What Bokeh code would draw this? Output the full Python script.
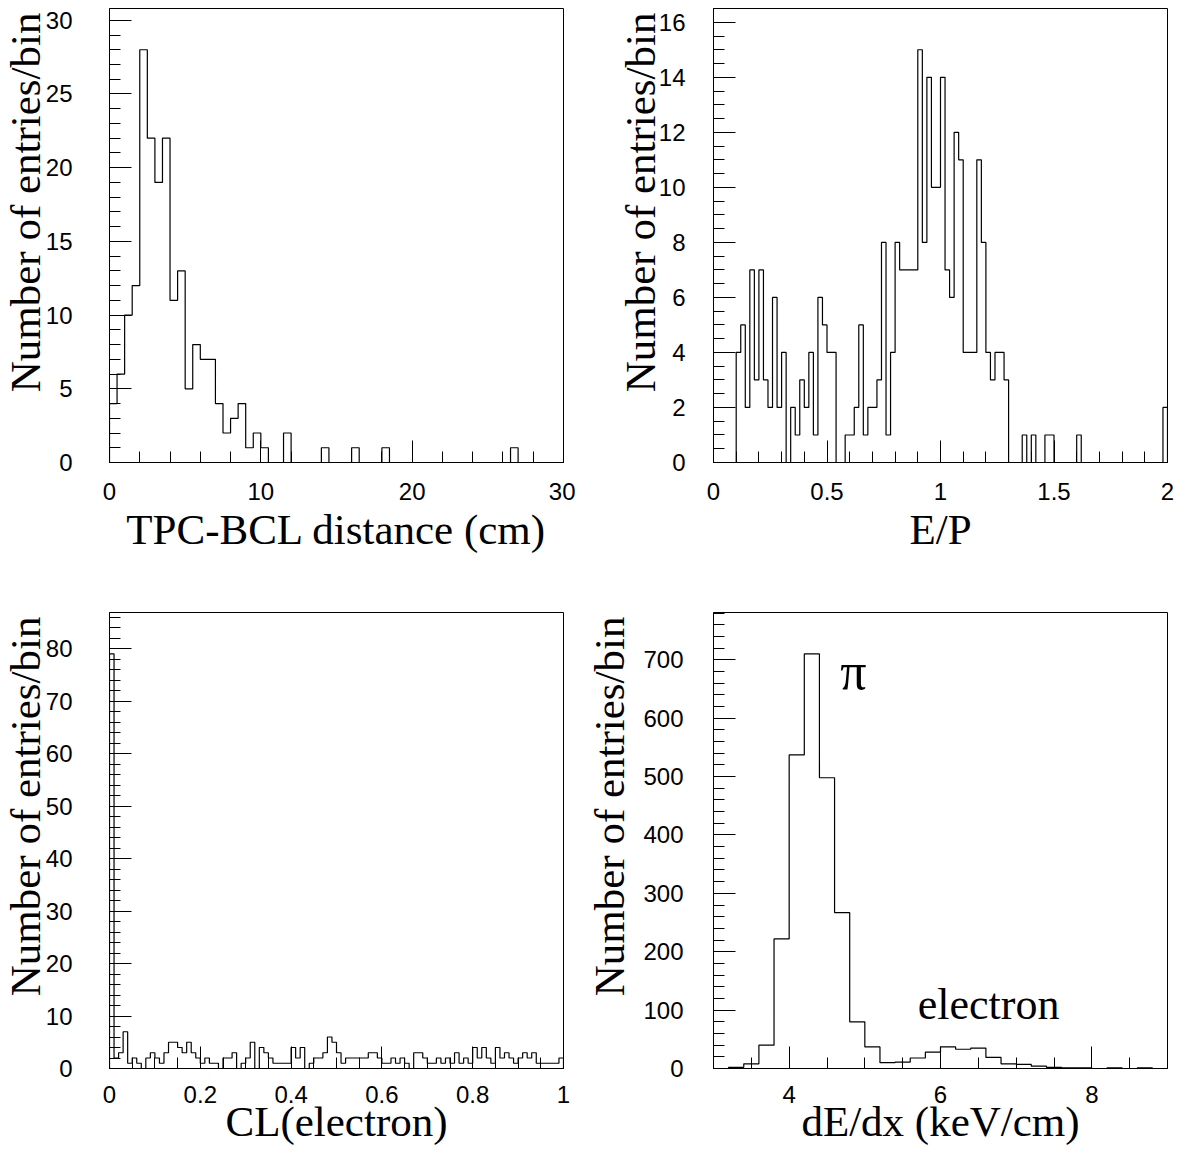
import numpy as np
from bokeh.plotting import figure
from bokeh.models import Range1d, SingleIntervalTicker, Label, Title, CustomJSTickFormatter
from bokeh.layouts import gridplot
from bokeh.embed import file_html
from bokeh.resources import INLINE

# ---------------- data ----------------
# Panel 1: TPC-BCL distance (cm), 60 bins from 0 to 30
tpc_lo, tpc_hi = 0.0, 30.0
tpc_counts = [4, 6, 10, 12, 28, 22, 19, 22, 11, 13,
              5, 8, 7, 7, 4, 2, 3, 4, 1, 2,
              1, 0, 0, 2, 0, 0, 0, 0, 1, 0,
              0, 0, 1, 0, 0, 0, 1, 0, 0, 0,
              0, 0, 0, 0, 0, 0, 0, 0, 0, 0,
              0, 0, 0, 1, 0, 0, 0, 0, 0, 0]

# Panel 2: E/P, 100 bins from 0 to 2
ep_lo, ep_hi = 0.0, 2.0
ep_counts = [0, 0, 0, 0, 0, 4, 5, 2, 7, 3,
             7, 3, 2, 6, 2, 4, 0, 2, 1, 3,
             2, 4, 1, 6, 5, 4, 4, 0, 0, 1,
             1, 2, 5, 1, 2, 2, 3, 8, 1, 4,
             8, 7, 7, 7, 7, 15, 8, 14, 10, 10,
             14, 7, 6, 12, 11, 4, 4, 4, 11, 8,
             4, 3, 4, 4, 3, 0, 0, 0, 1, 0,
             1, 0, 0, 1, 1, 0, 0, 0, 0, 0,
             1, 0, 0, 0, 0, 0, 0, 0, 0, 0,
             0, 0, 0, 0, 0, 0, 0, 0, 0, 2]

# Panel 3: CL(electron), 100 bins from 0 to 1
cl_lo, cl_hi = 0.0, 1.0
cl_counts = [79, 2, 3, 7, 1, 2, 1, 0, 2, 3,
             2, 1, 3, 5, 5, 4, 3, 5, 3, 2,
             1, 2, 1, 1, 0, 2, 2, 3, 0, 1,
             2, 5, 0, 4, 3, 2, 1, 1, 1, 1,
             4, 2, 4, 0, 1, 2, 2, 3, 6, 5,
             3, 1, 2, 2, 2, 2, 2, 3, 3, 2,
             1, 1, 2, 1, 2, 1, 0, 3, 3, 2,
             1, 1, 2, 1, 2, 1, 3, 1, 2, 1,
             4, 2, 4, 2, 1, 4, 2, 3, 2, 1,
             2, 3, 2, 3, 1, 1, 1, 1, 1, 2]

# Panel 4: dE/dx (keV/cm), 30 bins from 3 to 9
dedx_lo, dedx_hi = 3.0, 9.0
dedx_counts = [0, 2, 8, 40, 222, 537, 710, 498, 267, 80,
               37, 10, 11, 18, 28, 37, 33, 35, 19, 8,
               7, 4, 2, 1, 1, 0, 1, 0, 1, 0]

y_title = "Number of entries/bin"
x_titles = ["TPC-BCL distance (cm)", "E/P", "CL(electron)", "dE/dx (keV/cm)"]
pi_label = "\u03c0"
electron_label = "electron"

SERIF = "Liberation Serif"
SANS = "Liberation Sans"


def fmt():
    return CustomJSTickFormatter(code="return String(Math.round(tick*1000)/1000)")


def make_panel(lo, hi, counts, ymax, xint, xminor, yint, yminor, xtitle,
               b_left, b_right, b_top, b_bottom, frame_h,
               ylab_standoff, xlab_standoff, xtitle_standoff, ytitle_standoff):
    n = len(counts)
    edges = np.linspace(lo, hi, n + 1)
    xs = np.concatenate([[edges[0]], edges])
    ys = np.concatenate([[0], np.asarray(counts, dtype=float), [0]])

    p = figure(frame_width=454, frame_height=frame_h,
               x_range=Range1d(lo, hi), y_range=Range1d(0, ymax),
               output_backend="svg", toolbar_location=None,
               min_border_left=b_left, min_border_right=b_right,
               min_border_top=b_top, min_border_bottom=b_bottom,
               background_fill_color="white", border_fill_color="white")
    p.step(xs, ys, mode="after", line_color="black", line_width=1.2)

    p.grid.visible = False
    p.outline_line_color = "black"
    p.outline_line_width = 1

    p.xaxis.ticker = SingleIntervalTicker(interval=xint, num_minor_ticks=xminor)
    p.yaxis.ticker = SingleIntervalTicker(interval=yint, num_minor_ticks=yminor)
    p.xaxis.formatter = fmt()
    p.yaxis.formatter = fmt()
    for ax in (p.xaxis[0], p.yaxis[0]):
        ax.axis_line_color = "black"
        ax.major_tick_line_color = "black"
        ax.minor_tick_line_color = "black"
        ax.major_tick_in = 22
        ax.major_tick_out = 0
        ax.minor_tick_in = 11
        ax.minor_tick_out = 0
        ax.major_label_text_font = SANS
        ax.major_label_text_font_size = "24px"
        ax.major_label_text_color = "black"
    p.xaxis.major_label_standoff = xlab_standoff
    p.yaxis.major_label_standoff = ylab_standoff

    p.xaxis.axis_label = xtitle
    p.xaxis.axis_label_text_font = SERIF
    p.xaxis.axis_label_text_font_size = "43px"
    p.xaxis.axis_label_text_font_style = "normal"
    p.xaxis.axis_label_text_color = "black"
    p.xaxis.axis_label_standoff = xtitle_standoff

    p.add_layout(Title(text=y_title, align="right", vertical_align="middle",
                       offset=4, standoff=ytitle_standoff,
                       text_font=SERIF, text_font_size="43px",
                       text_font_style="normal", text_color="black"), "left")
    return p


p1 = make_panel(tpc_lo, tpc_hi, tpc_counts, 30.8, 10, 5, 5, 5, x_titles[0],
                109, 12, 8, 120, 454, 37, 20, 3, -14)
p2 = make_panel(ep_lo, ep_hi, ep_counts, 16.5, 0.5, 5, 2, 4, x_titles[1],
                138, 8, 8, 120, 454, 28, 20, 3, -18)
p3 = make_panel(cl_lo, cl_hi, cl_counts, 86.9, 0.2, 4, 10, 5, x_titles[2],
                109, 12, 30, 90, 456, 37, 17, -8, -14)
p4 = make_panel(dedx_lo, dedx_hi, dedx_counts, 781, 2, 4, 100, 5, x_titles[3],
                138, 8, 30, 90, 456, 30, 17, -8, 14)

p4.add_layout(Label(x=4.85, y=680, text=pi_label, text_align="center",
                    text_baseline="alphabetic", text_font=SERIF,
                    text_font_size="52px", text_color="black"))
p4.add_layout(Label(x=5.70, y=110, text=electron_label, text_align="left",
                    text_baseline="alphabetic", text_font=SERIF,
                    text_font_size="44px", text_color="black"))

grid = gridplot([[p1, p2], [p3, p4]], toolbar_location=None)

open("out.html", "w").write(file_html(grid, INLINE))
